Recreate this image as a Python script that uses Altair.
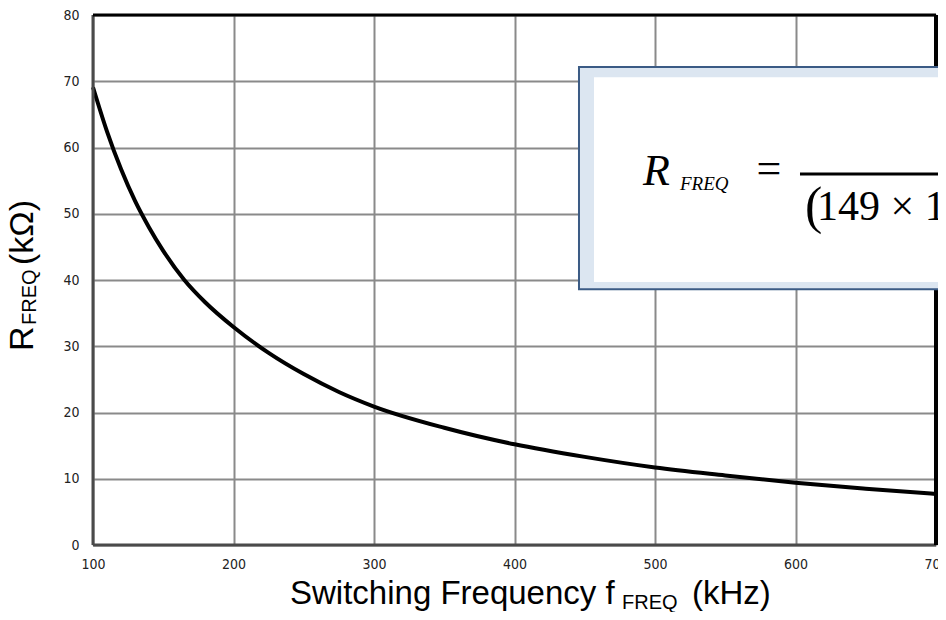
import altair as alt
import pandas as pd

# ---- data ----
freq_khz = [100, 110, 120, 130, 140, 150, 165, 180, 200, 225, 250, 275, 300,
            350, 400, 450, 500, 550, 600, 650, 700]
r_kohm = [69.1, 62.4, 56.7, 51.9, 47.9, 44.4, 40.0, 36.6, 32.9, 29.0, 25.8, 23.1, 20.9,
          17.7, 15.2, 13.3, 11.7, 10.5, 9.4, 8.5, 7.7]

x_ticks = [100, 200, 300, 400, 500, 600, 700]
y_ticks = [0, 10, 20, 30, 40, 50, 60, 70, 80]

# equation box (data coordinates)
box_outer = {"f": 445.9, "f2": 820, "r": 72.15, "r2": 38.6}
box_inner = {"f": 456.6, "f2": 820, "r": 70.6, "r2": 39.7}
eq_parts = [
    {"t": "R", "f": 491.5, "r": 54.3, "size": 44, "style": "italic", "align": "left"},
    {"t": "FREQ", "f": 517.8, "r": 53.6, "size": 19, "style": "italic", "align": "left"},
    {"t": "=", "f": 581.1, "r": 54.6, "size": 44, "style": "normal", "align": "center"},
    {"t": "(", "f": 606.8, "r": 48.6, "size": 52, "style": "normal", "align": "left"},
    {"t": "149  \u00d7 1", "f": 615.3, "r": 49.1, "size": 42, "style": "normal", "align": "left"},
]
frac_line = {"f": 603.2, "f2": 820, "r": 56.0}

W, H = 843, 530
XD = [100, 700]
YD = [0, 80]
LABEL_FONT = "Liberation Sans Narrow, Arial Narrow, DejaVu Sans Condensed, sans-serif"
TITLE_FONT = "Liberation Sans, Arial, sans-serif"
SERIF = "Liberation Serif, Times New Roman, serif"

xs = alt.Scale(domain=XD, nice=False, zero=False)
ys = alt.Scale(domain=YD, nice=False, zero=True)

xaxis = alt.Axis(values=x_ticks, title=None, grid=True, gridColor="#8a8a8a", gridWidth=2,
                 domain=False, ticks=False, labelFont=LABEL_FONT, labelFontSize=14,
                 labelColor="#222222", labelPadding=12, labelFlush=False)
yaxis = alt.Axis(values=y_ticks, title=None, grid=True, gridColor="#8a8a8a", gridWidth=2,
                 domain=False, ticks=False, labelFont=LABEL_FONT, labelFontSize=14,
                 labelColor="#222222", labelPadding=14)

curve_df = pd.DataFrame({"f": freq_khz, "r": r_kohm})

curve = alt.Chart(curve_df).mark_line(color="black", strokeWidth=4, interpolate="monotone").encode(
    x=alt.X("f:Q", scale=xs, axis=xaxis),
    y=alt.Y("r:Q", scale=ys, axis=yaxis),
)

one = alt.Data(values=[{}])

def rule(x, x2, y, y2, color, w):
    return alt.Chart(one).mark_rule(color=color, strokeWidth=w).encode(
        x=alt.value(x), x2=alt.value(x2), y=alt.value(y), y2=alt.value(y2))

frame = [
    rule(0, 0, 0, H, "#4a4a4a", 3),       # left
    rule(0, W, H, H, "#4a4a4a", 3),       # bottom
    rule(0, W, 0, 0, "black", 3),         # top
    rule(W, W, 0, H, "black", 4),         # right
]

def txt(t, x, y, size, angle=0, align="left", baseline="alphabetic"):
    kw = dict(text=t, font=TITLE_FONT, fontSize=size, color="black", align=align, baseline=baseline)
    if angle:
        kw["angle"] = angle
    return alt.Chart(one).mark_text(**kw).encode(x=alt.value(x), y=alt.value(y))

titles = [
    txt("Switching Frequency f", 197, 589, 33),
    txt("FREQ", 529, 594, 20),
    txt("(kHz)", 599, 589, 33),
    txt("R", -60, 336, 34, angle=270),
    txt("FREQ", -57, 310, 20, angle=270),
    txt("(k\u03a9)", -60, 250, 34, angle=270),
]

outer = alt.Chart(alt.Data(values=[box_outer])).mark_rect(
    fill="#dce6f1", stroke="#3b5b85", strokeWidth=2, clip=False).encode(
    x=alt.X("f:Q", scale=xs), x2="f2:Q", y=alt.Y("r:Q", scale=ys), y2="r2:Q")
inner = alt.Chart(alt.Data(values=[box_inner])).mark_rect(
    fill="white", clip=False).encode(
    x=alt.X("f:Q", scale=xs), x2="f2:Q", y=alt.Y("r:Q", scale=ys), y2="r2:Q")
fline = alt.Chart(alt.Data(values=[frac_line])).mark_rule(
    color="black", strokeWidth=3, clip=False).encode(
    x=alt.X("f:Q", scale=xs), x2="f2:Q", y=alt.Y("r:Q", scale=ys))

eq_layers = []
for p in eq_parts:
    eq_layers.append(
        alt.Chart(alt.Data(values=[p])).mark_text(
            font=SERIF, fontSize=p["size"], fontStyle=p["style"], align=p["align"],
            baseline="alphabetic", color="black", clip=False).encode(
            x=alt.X("f:Q", scale=xs), y=alt.Y("r:Q", scale=ys), text="t:N")
    )

chart = alt.layer(curve, *frame, outer, inner, fline, *eq_layers, *titles).properties(
    width=W, height=H,
    autosize=alt.AutoSizeParams(type="none"),
    padding={"left": 85, "top": 7, "right": 2, "bottom": 67},
    background="white",
).configure_view(stroke=None)

chart.save("out.html", embed_options={"renderer": "svg", "actions": False})
